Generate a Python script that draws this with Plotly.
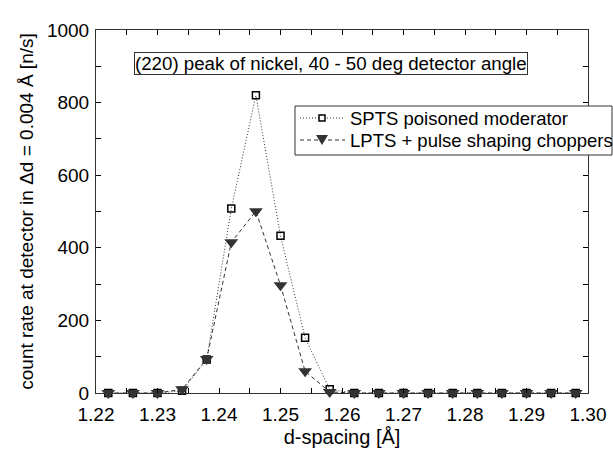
import plotly.graph_objects as go

d_spacing = [1.222, 1.226, 1.230, 1.234, 1.238, 1.242, 1.246, 1.250, 1.254, 1.258,
             1.262, 1.266, 1.270, 1.274, 1.278, 1.282, 1.286, 1.290, 1.294, 1.298]
spts = [0, 0, 0, 6, 92, 508, 820, 433, 152, 10, 0, 0, 0, 0, 0, 0, 0, 0, 0, 0]
lpts = [0, 0, 0, 10, 94, 415, 501, 297, 60, 3, 0, 0, 0, 0, 0, 0, 0, 0, 0, 0]
names = ["SPTS poisoned moderator", "LPTS + pulse shaping choppers"]

FONT = "Liberation Sans, Arial, Helvetica, sans-serif"
DARK = "#333333"
W, H = 613, 454
ML, MR, MT, MB = 96, 25, 30, 61
PW, PH = W - ML - MR, H - MT - MB


def px(xp):
    return (xp - ML) / PW


def py(yp):
    return (H - MB - yp) / PH


fig = go.Figure()
fig.add_trace(go.Scatter(
    x=d_spacing, y=spts, name=names[0], mode="lines+markers",
    line=dict(color=DARK, width=1, dash="1px,2px"),
    marker=dict(symbol="square-open", size=7, color="black", line=dict(width=1.5, color="black")),
    cliponaxis=False, showlegend=False,
))
fig.add_trace(go.Scatter(
    x=d_spacing, y=lpts, name=names[1], mode="lines+markers",
    line=dict(color=DARK, width=1, dash="4px,3px"),
    marker=dict(symbol="triangle-down", size=12, color=DARK, line=dict(width=0)),
    cliponaxis=False, showlegend=False,
))

axis_common = dict(
    showline=True, linecolor=DARK, linewidth=1, mirror="ticks",
    ticks="inside", ticklen=5, tickcolor="black", tickwidth=1,
    showgrid=False, zeroline=False,
    tickfont=dict(family=FONT, size=19, color="black"),
)

fig.update_xaxes(
    range=[1.22, 1.30], dtick=0.01, tick0=1.22, tickformat=".2f",
    minor=dict(ticks="inside", dtick=0.005, tick0=1.22, ticklen=5, tickcolor="black", showgrid=False),
    title=dict(text="d-spacing [Å]", font=dict(family=FONT, size=20, color="black"), standoff=6),
    ticklabelstandoff=4,
    **axis_common,
)
fig.update_yaxes(
    range=[0, 1000], dtick=200, tick0=0,
    minor=dict(ticks="inside", dtick=100, ticklen=5, tickcolor="black", showgrid=False),
    title=dict(text="count rate at detector in Δd = 0.004 Å [n/s]",
               font=dict(family=FONT, size=19, color="black"), standoff=8),
    ticklabelstandoff=2,
    **axis_common,
)

fig.add_annotation(
    x=0.478, y=0.908, xref="paper", yref="paper", xanchor="center", yanchor="middle",
    text="(220) peak of nickel, 40 - 50 deg detector angle", showarrow=False,
    font=dict(family=FONT, size=18.7, color="black"),
    bordercolor=DARK, borderwidth=1, borderpad=0, bgcolor="white",
)

# legend drawn by hand (box, sample lines, symbols, labels)
fig.add_shape(type="rect", xref="paper", yref="paper",
              x0=px(295), x1=px(612), y0=py(155), y1=py(106),
              line=dict(color=DARK, width=1), fillcolor="white", layer="above")
rows = [118, 140]
styles = [("1px,2px", "square"), ("4px,3px", "triangle")]
for name, yrow, (dash, sym) in zip(names, rows, styles):
    fig.add_shape(type="line", xref="paper", yref="paper",
                  x0=px(300), x1=px(345), y0=py(yrow), y1=py(yrow),
                  line=dict(color=DARK, width=1, dash=dash), layer="above")
    if sym == "square":
        fig.add_shape(type="rect", xref="paper", yref="paper",
                      x0=px(319), x1=px(325), y0=py(yrow + 3), y1=py(yrow - 3),
                      line=dict(color="black", width=1.5), fillcolor="white", layer="above")
    else:
        fig.add_shape(type="path", xref="paper", yref="paper",
                      path=f"M {px(316)} {py(yrow - 5)} L {px(328)} {py(yrow - 5)} L {px(322)} {py(yrow + 5)} Z",
                      line=dict(color=DARK, width=0), fillcolor=DARK, layer="above")
    fig.add_annotation(x=px(348), y=py(yrow), xref="paper", yref="paper",
                       xanchor="left", yanchor="middle", text=name, showarrow=False,
                       font=dict(family=FONT, size=18.5, color="black"))

fig.update_layout(
    width=W, height=H,
    margin=dict(l=ML, r=MR, t=MT, b=MB, autoexpand=False),
    paper_bgcolor="white", plot_bgcolor="white",
    font=dict(family=FONT, size=19, color="black"),
    showlegend=False,
)

fig.write_html("out.html")
